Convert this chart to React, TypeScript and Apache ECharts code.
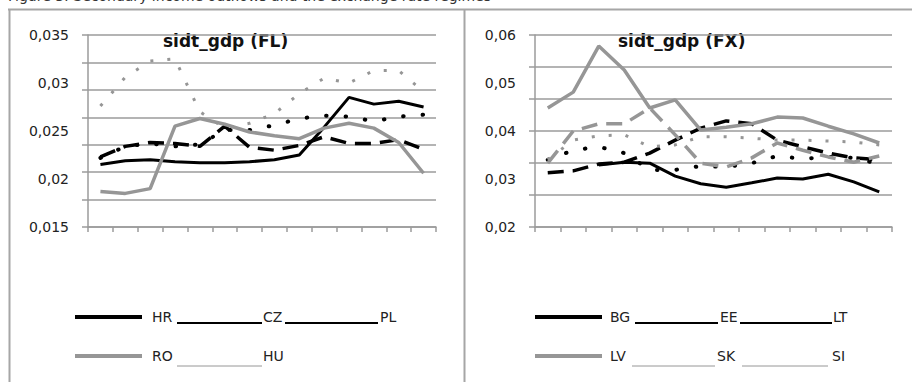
import React, { useEffect, useRef } from "react";
import * as echarts from "echarts";

const categories = ["1", "2", "3", "4", "5", "6", "7", "8", "9", "10", "11", "12", "13", "14"];

// Left panel: sidt_gdp (FL)
const HR = [0.0215, 0.0219, 0.022, 0.0218, 0.0217, 0.0217, 0.0218, 0.022, 0.0225, 0.0254, 0.0285, 0.0278, 0.0281, 0.0275];
const CZ = [0.0223, 0.0234, 0.0238, 0.0237, 0.0234, 0.0255, 0.0233, 0.023, 0.0235, 0.0244, 0.0237, 0.0237, 0.0241, 0.0231];
const PL = [0.0222, 0.0234, 0.0237, 0.0234, 0.0236, 0.0251, 0.0251, 0.0256, 0.0263, 0.0266, 0.0265, 0.026, 0.0265, 0.0267];
const RO = [0.0187, 0.0185, 0.019, 0.0255, 0.0263, 0.0257, 0.0249, 0.0245, 0.0242, 0.0253, 0.0258, 0.0253, 0.0238, 0.0206];
const HU = [0.0276, 0.0306, 0.0323, 0.0325, 0.027, 0.0253, 0.0258, 0.0268, 0.0289, 0.0305, 0.03, 0.0313, 0.0313, 0.0291];

// Right panel: sidt_gdp (FX)
const BG = [null, null, 0.0329, 0.0335, 0.0333, 0.0306, 0.029, 0.0283, 0.0292, 0.0302, 0.03, 0.031, 0.0294, 0.0273];
const EE = [0.0313, 0.0317, 0.0331, 0.0335, 0.0354, 0.0381, 0.0406, 0.0421, 0.0415, 0.0381, 0.0367, 0.0354, 0.0344, 0.034];
const LT = [0.034, 0.036, 0.0367, 0.0354, 0.0319, 0.0319, 0.0327, 0.0325, 0.0333, 0.0348, 0.0342, 0.0346, 0.0344, 0.0331];
const LV = [0.0448, 0.0481, 0.0577, 0.0527, 0.0448, 0.0465, 0.0402, 0.0408, 0.0415, 0.0429, 0.0427, 0.041, 0.0394, 0.0375];
const SK = [0.0333, 0.04, 0.0415, 0.0415, 0.0448, 0.0392, 0.0333, 0.0325, 0.0344, 0.0375, 0.036, 0.0346, 0.0335, 0.0348];
const SI = [0.034, 0.0381, 0.039, 0.0392, 0.0367, 0.0371, 0.0388, 0.0388, 0.0385, 0.0381, 0.0381, 0.0379, 0.0377, 0.0371];

const leftTitle = "sidt_gdp (FL)";
const rightTitle = "sidt_gdp (FX)";
const caption = "Figure 3: Secondary income outflows and the exchange rate regimes";

const GRID_C = "#9b9b9b";
const GRAY = "#969696";
const FONT = "DejaVu Sans";

const fmt = (v: number) => String(+v.toFixed(4)).replace(".", ",");

function xAxis(gi: number) {
  return {
    gridIndex: gi,
    type: "category",
    data: categories,
    boundaryGap: true,
    axisLine: { show: true, lineStyle: { color: GRID_C, width: 1.5 } },
    axisTick: { show: true, length: 5, lineStyle: { color: GRID_C, width: 1.5 } },
    axisLabel: { show: false },
    splitLine: { show: false },
  };
}

function labelAxis(gi: number, min: number, max: number, interval: number) {
  return {
    gridIndex: gi,
    type: "value",
    position: "left",
    min,
    max,
    interval,
    axisLabel: { formatter: fmt, fontFamily: FONT, fontSize: 14, color: "#222", margin: 19 },
    axisLine: { show: false },
    axisTick: { show: false },
    splitLine: { show: false },
  };
}

function gridAxis(gi: number, n: number) {
  return {
    gridIndex: gi,
    type: "value",
    position: "left",
    min: 0,
    max: n,
    interval: 1,
    axisLabel: { show: false },
    axisLine: { show: true, lineStyle: { color: GRID_C, width: 1.5 } },
    axisTick: { show: true, length: 6, lineStyle: { color: GRID_C, width: 1.5 } },
    splitLine: { show: true, lineStyle: { color: GRID_C, width: 1.5 } },
  };
}

function line(name: string, data: (number | null)[], xi: number, yi: number, color: string, width: number, type: any, cap = "butt") {
  return {
    name,
    type: "line",
    xAxisIndex: xi,
    yAxisIndex: yi,
    data,
    symbol: "none",
    showSymbol: false,
    connectNulls: false,
    lineStyle: { color, width, type, cap },
  };
}

function legendItems(x0: number, rows: { icon: string; w: number; items: { label: string; x: number; ux?: [number, number] }[] }[]) {
  const els: any[] = [];
  const ys = [317, 356];
  rows.forEach((r, ri) => {
    const y = ys[ri];
    els.push({ type: "line", shape: { x1: x0, y1: y, x2: x0 + 67, y2: y }, style: { stroke: r.icon, lineWidth: r.w } });
    r.items.forEach((it) => {
      els.push({
        type: "text",
        x: it.x,
        y: y,
        style: { text: it.label, font: `14px "${FONT}"`, fill: "#222", verticalAlign: "middle", align: "left" },
      });
      if (it.ux) {
        const uy = ri === 0 ? y + 6 : y + 10;
        els.push({
          type: "line",
          shape: { x1: it.ux[0], y1: uy, x2: it.ux[1], y2: uy },
          style: { stroke: r.icon, lineWidth: ri === 0 ? 2 : 1 },
        });
      }
    });
  });
  return els;
}

export default function App() {
  const ref = useRef<HTMLDivElement>(null);
  useEffect(() => {
    if (!ref.current) return;
    const chart = echarts.init(ref.current, undefined, { renderer: "svg" });
    const graphic: any[] = [
      { type: "text", left: 8, top: -11, style: { text: caption, font: `14px "${FONT}"`, fill: "#333" } },
      { type: "line", shape: { x1: 8, y1: 9.5, x2: 912, y2: 9.5 }, style: { stroke: "#a6a6a6", lineWidth: 2 } },
      { type: "line", shape: { x1: 9.5, y1: 9, x2: 9.5, y2: 382 }, style: { stroke: "#a6a6a6", lineWidth: 2 } },
      { type: "line", shape: { x1: 464.5, y1: 9, x2: 464.5, y2: 382 }, style: { stroke: "#a6a6a6", lineWidth: 2 } },
      { type: "text", x: 163, y: 49, style: { text: leftTitle, font: `bold 17px "${FONT}"`, fill: "#111", verticalAlign: "bottom" } },
      { type: "text", x: 618, y: 49, style: { text: rightTitle, font: `bold 17px "${FONT}"`, fill: "#111", verticalAlign: "bottom" } },
      ...legendItems(75, [
        { icon: "#000", w: 4, items: [{ label: "HR", x: 152, ux: [177, 262] }, { label: "CZ", x: 263, ux: [285, 378] }, { label: "PL", x: 380 }] },
        { icon: GRAY, w: 4, items: [{ label: "RO", x: 152, ux: [177, 262] }, { label: "HU", x: 263 }] },
      ]),
      ...legendItems(535, [
        { icon: "#000", w: 4, items: [{ label: "BG", x: 610, ux: [635, 718] }, { label: "EE", x: 720, ux: [740, 832] }, { label: "LT", x: 833 }] },
        { icon: GRAY, w: 4, items: [{ label: "LV", x: 610, ux: [632, 715] }, { label: "SK", x: 717, ux: [742, 828] }, { label: "SI", x: 832 }] },
      ]),
    ];
    const option: any = {
      animation: false,
      grid: [
        { left: 88, top: 35, width: 348, height: 192 },
        { left: 535, top: 35, width: 357, height: 192 },
      ],
      xAxis: [xAxis(0), xAxis(1)],
      yAxis: [
        labelAxis(0, 0.015, 0.035, 0.005),
        gridAxis(0, 7),
        labelAxis(1, 0.02, 0.06, 0.01),
        gridAxis(1, 6),
      ],
      series: [
        line("HR", HR, 0, 0, "#000", 3, "solid"),
        line("CZ", CZ, 0, 0, "#000", 3.5, [16, 9]),
        line("PL", PL, 0, 0, "#000", 4, [0.5, 19], "round"),
        line("RO", RO, 0, 0, GRAY, 3.5, "solid"),
        line("HU", HU, 0, 0, GRAY, 3, [3, 14]),
        line("BG", BG, 1, 2, "#000", 3, "solid"),
        line("EE", EE, 1, 2, "#000", 3.5, [16, 9]),
        line("LT", LT, 1, 2, "#000", 4, [0.5, 19], "round"),
        line("LV", LV, 1, 2, GRAY, 3.5, "solid"),
        line("SK", SK, 1, 2, GRAY, 3.5, [16, 9]),
        line("SI", SI, 1, 2, GRAY, 3, [3, 14]),
      ],
      graphic,
    };
    chart.setOption(option);
    return () => chart.dispose();
  }, []);
  return <div ref={ref} style={{ position: "absolute", left: 0, top: 0, width: 912, height: 382, background: "#fff" }} />;
}
